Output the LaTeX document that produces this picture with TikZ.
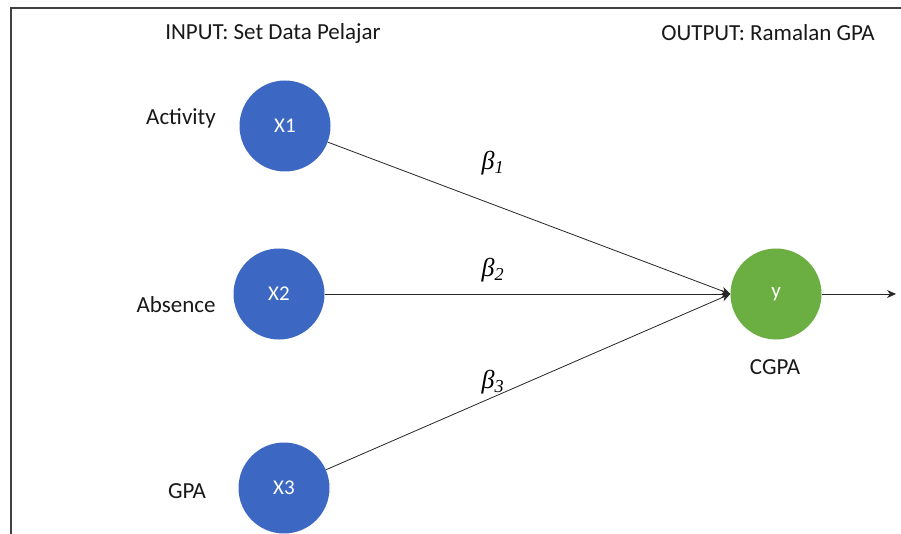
\documentclass[tikz,border=0pt]{standalone}
\usepackage{fontspec}
\setmainfont{Carlito}
\newfontfamily\tms{Liberation Serif}
\usetikzlibrary{arrows.meta}
\definecolor{nblue}{HTML}{3C68C4}
\definecolor{ngreen}{HTML}{6BAF42}
\definecolor{frame}{HTML}{404040}
\tikzset{
  neuron/.style={circle, minimum size=91pt, inner sep=0pt, text=white, font=\fontsize{21}{24}\selectfont},
  inp/.style={neuron, fill=nblue},
  outn/.style={neuron, fill=ngreen},
  lbl/.style={font=\fontsize{23}{26}\selectfont, text=black!90},
  conn/.style={draw=black!85, line width=0.8pt, -{Stealth[length=9pt,width=8pt]}},
  wt/.style={font=\tms\itshape\fontsize{26}{28}\selectfont}
}
\begin{document}
\begin{tikzpicture}[x=1pt,y=-1pt]
\useasboundingbox (0,0) rectangle (901,534);
\fill[white] (0,0) rectangle (901,534);
\draw[frame, line width=1.5pt] (11,534) -- (11,8) -- (901,8);
\node[lbl] (tin) at (273,33) {INPUT: Set Data Pelajar};
\node[lbl] (tout) at (768,33) {OUTPUT: Ramalan GPA};
\node[inp] (x1) at (285,126) {X1};
\node[inp] (x2) at (279,294) {X2};
\node[inp] (x3) at (284,488) {X3};
\node[outn] (y) at (776,294) {y};
\node[lbl] (l1) at (181,118) {Activity};
\node[lbl] (l2) at (176,305) {Absence};
\node[lbl] (l3) at (187,491) {GPA};
\node[lbl] (l4) at (775,367) {CGPA};
\coordinate (out) at (896,294);
\draw[conn] (x1) -- (y.west);
\draw[conn] (x2) -- (y.west);
\draw[conn] (x3) -- (y.west);
\draw[conn] (y) -- (out);
\node[wt] (b1) at (493,163) {β\textsubscript{1}};
\node[wt] (b2) at (493,270) {β\textsubscript{2}};
\node[wt] (b3) at (493,382) {β\textsubscript{3}};
\end{tikzpicture}
\end{document}
